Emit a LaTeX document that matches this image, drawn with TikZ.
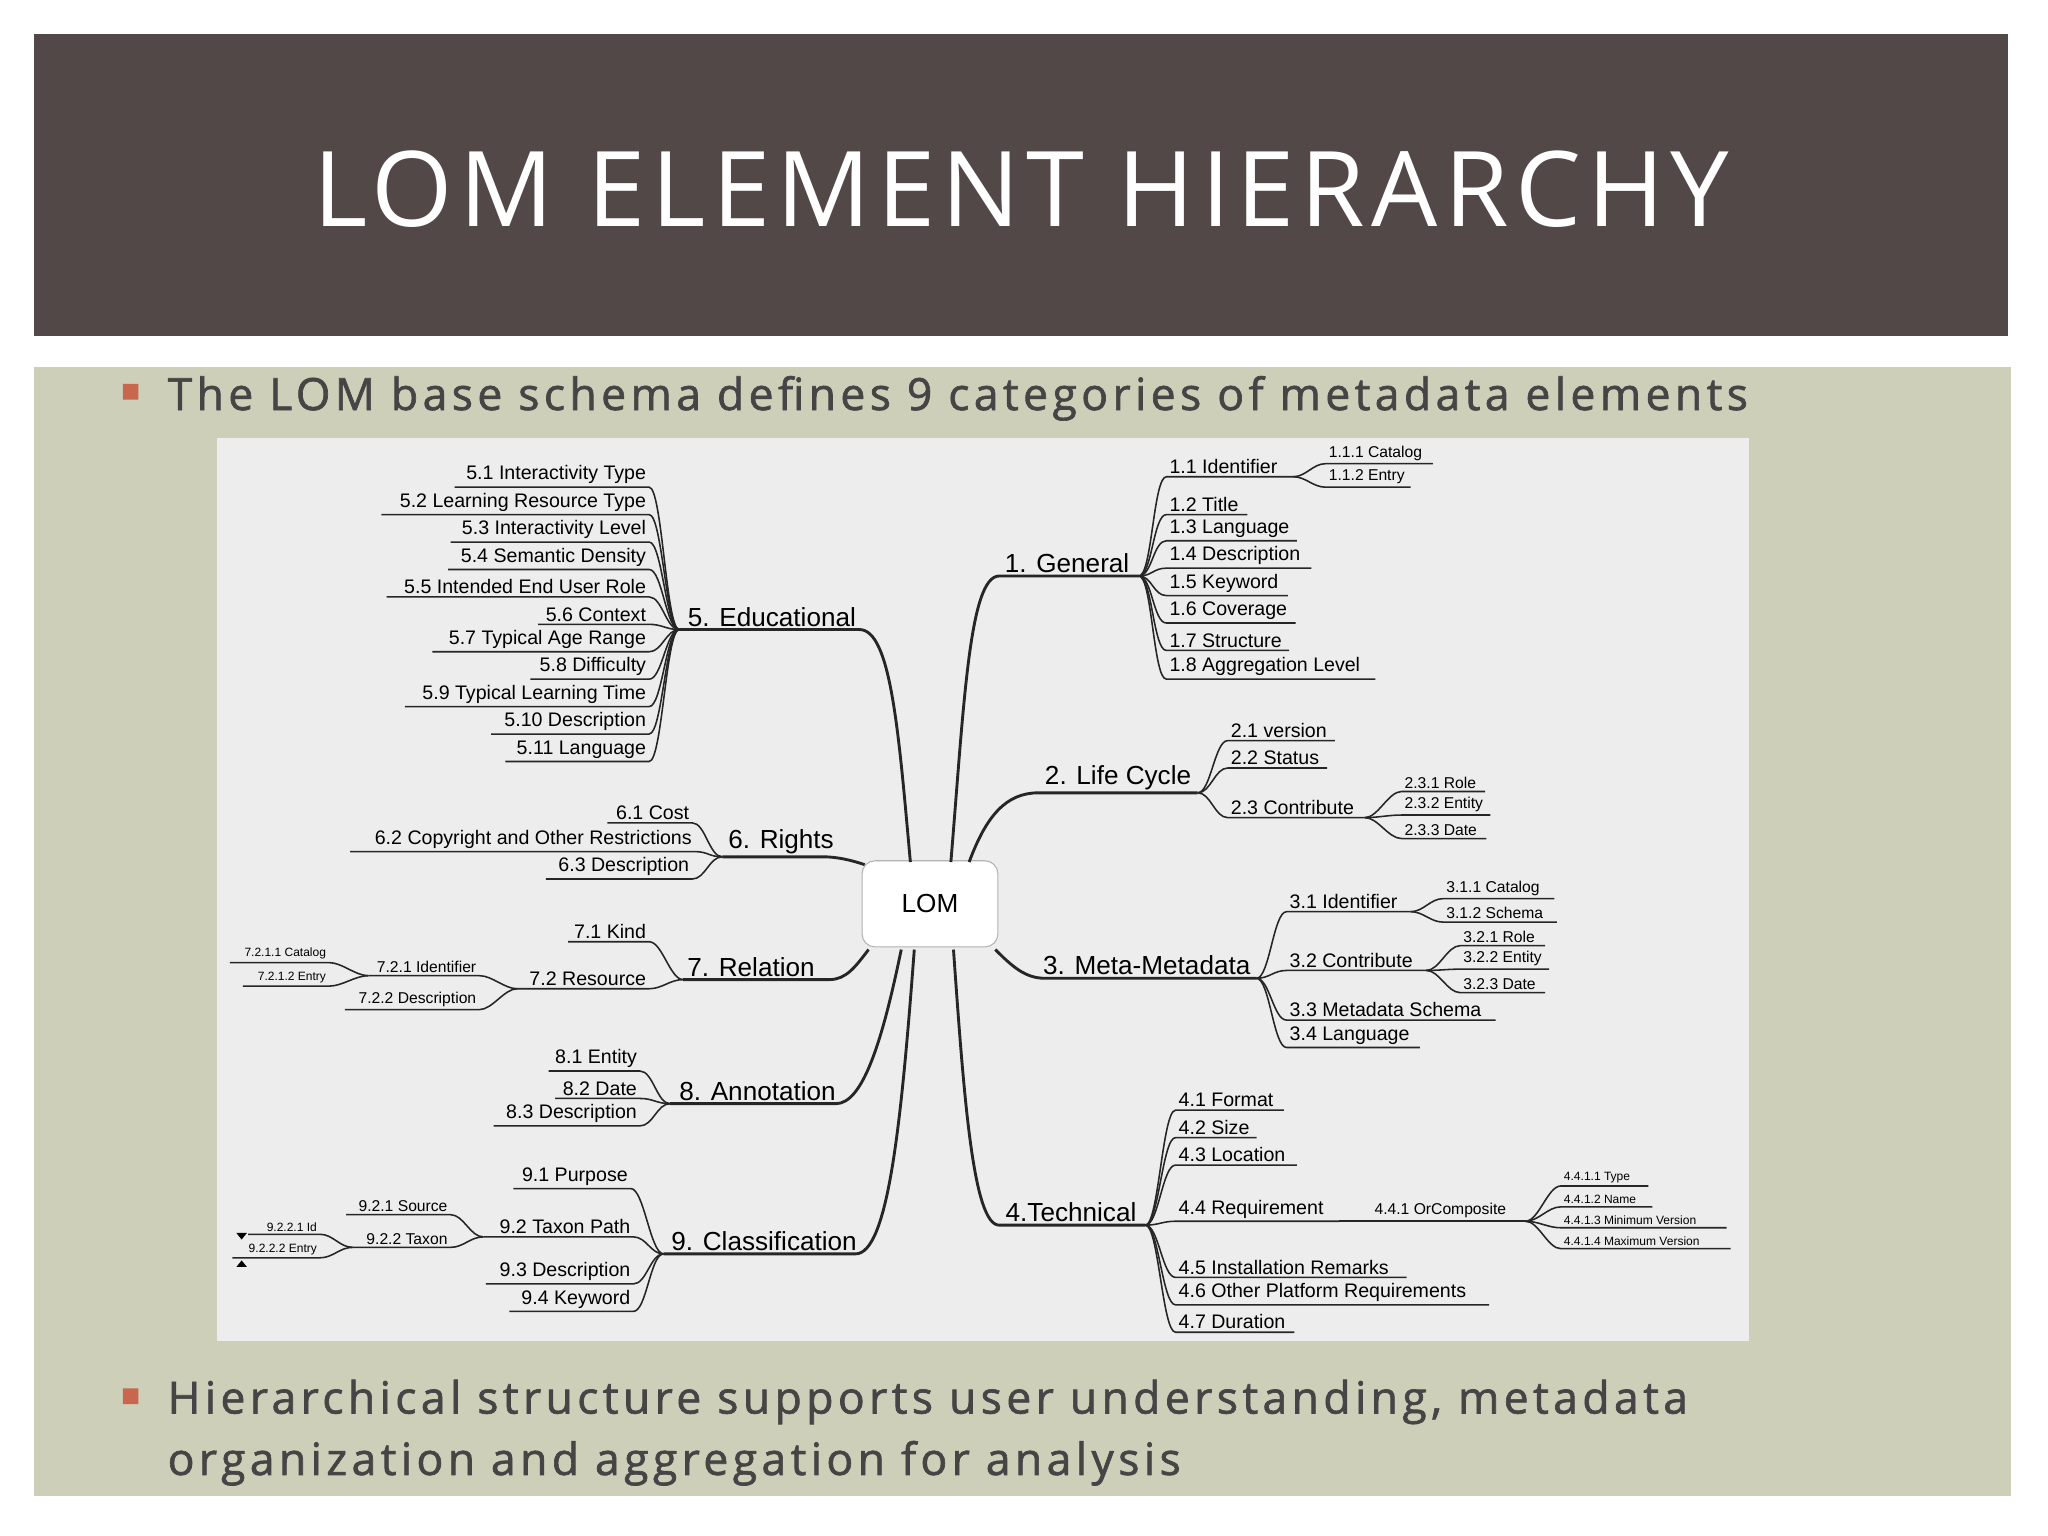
\documentclass[tikz,border=0pt]{standalone}
\usepackage{fontspec}
\setmainfont{Liberation Sans}
\newfontfamily\tfont[LetterSpace=6]{Open Sans}
\newfontfamily\bfont[LetterSpace=10,FakeBold=1.5]{Open Sans}
\definecolor{bar}{HTML}{534848}
\definecolor{body}{HTML}{CDCFB9}
\definecolor{panel}{HTML}{EDEDED}
\definecolor{txt}{HTML}{454545}
\definecolor{bul}{HTML}{C8664E}
\tikzset{br/.style={line width=0.6pt,black!85},cat/.style={line width=1.1pt,black!85},
 c1/.style={font=\fontsize{7.5}{8}\selectfont},c2/.style={font=\fontsize{6}{7}\selectfont},
 c3/.style={font=\fontsize{4.6}{5}\selectfont},ct/.style={font=\fontsize{10}{11}\selectfont,inner sep=1pt}}
\newcommand\rc[6]{\draw[br] (#1) .. controls +(10,0) and +(-10,0) .. (#2,#4) -- (#3,#4);
 \node[#6,anchor=south west,inner sep=1pt] at (#2,#4) {#5};}
\newcommand\lc[6]{\draw[br] (#1) .. controls +(-10,0) and +(10,0) .. (#3,#4) -- (#2,#4);
 \node[#6,anchor=south east,inner sep=1pt] at (#3,#4) {#5};}
\begin{document}
\begin{tikzpicture}[x=0.5pt,y=-0.5pt]
\useasboundingbox (0,0) rectangle (1568,1176);
\fill[white] (0,0) rectangle (1568,1176);
\fill[bar] (26,26) rectangle (1537,257);
\node[text=white,font=\tfont\fontsize{40}{44}\selectfont] (title) at (782,145) {LOM ELEMENT HIERARCHY};
\fill[body] (26,281) rectangle (1540,1145);
\fill[bul] (94,294) rectangle (106,306) (94,1063) rectangle (106,1075);
\node[anchor=west,text=txt,font=\bfont\fontsize{17}{20}\selectfont,inner sep=0] (b1) at (128,305) {The LOM base schema defines 9 categories of metadata elements};
\node[anchor=north west,text=txt,font=\bfont\fontsize{17}{23.5}\selectfont,inner sep=0,align=left] (b2) at (128,1056) {Hierarchical structure supports user understanding, metadata\\organization and aggregation for analysis};
\fill[panel] (166,335) rectangle (1339,1027);
% LOM
\node[draw=black!30,fill=white,rounded corners=5pt,minimum width=52pt,minimum height=33pt,font=\fontsize{10}{11}\selectfont] (lom) at (712,692) {LOM};
% ---- right categories
\draw[cat] (728,660) .. controls (738,540) and (742,441) .. (765,441) -- (872,441);
\node[ct,anchor=south] (g) at (817,441) {1. General};
\rc{872,441}{893}{990}{365}{1.1 Identifier}{c1}
\rc{990,365}{1015}{1097}{355}{1.1.1 Catalog}{c2}
\rc{990,365}{1015}{1080}{373}{1.1.2 Entry}{c2}
\rc{872,441}{893}{955}{394}{1.2 Title}{c1}
\rc{872,441}{893}{993}{414}{1.3 Language}{c1}
\rc{872,441}{893}{1004}{435}{1.4 Description}{c1}
\rc{872,441}{893}{986}{456}{1.5 Keyword}{c1}
\rc{872,441}{893}{992}{477}{1.6 Coverage}{c1}
\rc{872,441}{893}{987}{498}{1.7 Structure}{c1}
\rc{872,441}{893}{1053}{520}{1.8 Aggregation Level}{c1}
\draw[cat] (742,660) .. controls (755,625) and (770,607) .. (795,607) -- (917,607);
\node[ct,anchor=south] (lc) at (856,607) {2. Life Cycle};
\rc{917,607}{940}{1022}{567}{2.1 version}{c1}
\rc{917,607}{940}{1016}{588}{2.2 Status}{c1}
\rc{917,607}{940}{1045}{626}{2.3 Contribute}{c1}
\rc{1045,626}{1073}{1137}{606}{2.3.1 Role}{c2}
\rc{1045,626}{1073}{1141}{624}{2.3.2 Entity}{c2}
\rc{1045,626}{1073}{1138}{642}{2.3.3 Date}{c2}
\draw[cat] (762,727) .. controls (775,740) and (785,749) .. (800,749) -- (962,749);
\node[ct,anchor=south] (mm) at (878,749) {3. Meta-Metadata};
\rc{962,749}{985}{1080}{698}{3.1 Identifier}{c1}
\rc{1080,698}{1105}{1190}{688}{3.1.1 Catalog}{c2}
\rc{1080,698}{1105}{1192}{706}{3.1.2 Schema}{c2}
\rc{962,749}{985}{1092}{743}{3.2 Contribute}{c1}
\rc{1092,743}{1118}{1183}{724}{3.2.1 Role}{c2}
\rc{1092,743}{1118}{1186}{742}{3.2.2 Entity}{c2}
\rc{1092,743}{1118}{1183}{760}{3.2.3 Date}{c2}
\rc{962,749}{985}{1145}{781}{3.3 Metadata Schema}{c1}
\rc{962,749}{985}{1087}{802}{3.4 Language}{c1}
\draw[cat] (730,727) .. controls (738,840) and (745,938) .. (765,938) -- (877,938);
\node[ct,anchor=south] (te) at (820,938) {4.Technical};
\rc{877,938}{900}{983}{850}{4.1 Format}{c1}
\rc{877,938}{900}{962}{871}{4.2 Size}{c1}
\rc{877,938}{900}{993}{892}{4.3 Location}{c1}
\rc{877,938}{900}{1025}{935}{4.4 Requirement}{c1}
\rc{1025,935}{1050}{1168}{935}{4.4.1 OrComposite}{c2}
\rc{1168,935}{1195}{1262}{908}{4.4.1.1 Type}{c3}
\rc{1168,935}{1195}{1265}{924}{4.4.1.2 Name}{c3}
\rc{1168,935}{1195}{1322}{940}{4.4.1.3 Minimum Version}{c3}
\rc{1168,935}{1195}{1325}{956}{4.4.1.4 Maximum Version}{c3}
\rc{877,938}{900}{1077}{978}{4.5 Installation Remarks}{c1}
\rc{877,938}{900}{1140}{999}{4.6 Other Platform Requirements}{c1}
\rc{877,938}{900}{991}{1020}{4.7 Duration}{c1}
% ---- left categories
\draw[cat] (697,660) .. controls (688,560) and (682,482) .. (658,482) -- (520,482);
\node[ct,anchor=south] (ed) at (591,482) {5. Educational};
\lc{520,482}{348}{497}{373}{5.1 Interactivity Type}{c1}
\lc{520,482}{292}{497}{394}{5.2 Learning Resource Type}{c1}
\lc{520,482}{345}{497}{415}{5.3 Interactivity Level}{c1}
\lc{520,482}{343}{497}{436}{5.4 Semantic Density}{c1}
\lc{520,482}{296}{497}{457}{5.5 Intended End User Role}{c1}
\lc{520,482}{412}{497}{478}{5.6 Context}{c1}
\lc{520,482}{331}{497}{499}{5.7 Typical Age Range}{c1}
\lc{520,482}{406}{497}{520}{5.8 Difficulty}{c1}
\lc{520,482}{310}{497}{541}{5.9 Typical Learning Time}{c1}
\lc{520,482}{376}{497}{562}{5.10 Description}{c1}
\lc{520,482}{387}{497}{583}{5.11 Language}{c1}
\draw[cat] (662,662) .. controls (650,658) and (640,656) .. (630,656) -- (553,656);
\node[ct,anchor=south] (ri) at (598,656) {6. Rights};
\lc{553,656}{465}{530}{630}{6.1 Cost}{c1}
\lc{553,656}{268}{532}{652}{6.2 Copyright and Other Restrictions}{c1}
\lc{553,656}{418}{530}{673}{6.3 Description}{c1}
\draw[cat] (665,727) .. controls (655,740) and (648,750) .. (635,750) -- (523,750);
\node[ct,anchor=south] (re) at (575,750) {7. Relation};
\lc{523,750}{435}{497}{721}{7.1 Kind}{c1}
\lc{523,750}{396}{497}{757}{7.2 Resource}{c1}
\lc{396,757}{282}{367}{747}{7.2.1 Identifier}{c2}
\lc{396,757}{264}{367}{773}{7.2.2 Description}{c2}
\lc{282,747}{176}{252}{737}{7.2.1.1 Catalog}{c3}
\lc{282,747}{186}{252}{755}{7.2.1.2 Entry}{c3}
\draw[cat] (690,727) .. controls (675,800) and (660,845) .. (640,845) -- (513,845);
\node[ct,anchor=south] (an) at (580,845) {8. Annotation};
\lc{513,845}{420}{490}{820}{8.1 Entity}{c1}
\lc{513,845}{425}{490}{841}{8.2 Date}{c1}
\lc{513,845}{378}{490}{862}{8.3 Description}{c1}
\draw[cat] (700,727) .. controls (690,860) and (680,960) .. (655,960) -- (508,960);
\node[ct,anchor=south] (cl) at (585,960) {9. Classification};
\lc{508,960}{393}{483}{910}{9.1 Purpose}{c1}
\lc{508,960}{370}{485}{947}{9.2 Taxon Path}{c1}
\lc{508,960}{372}{485}{983}{9.3 Description}{c1}
\lc{508,960}{390}{485}{1004}{9.4 Keyword}{c1}
\lc{370,947}{265}{345}{930}{9.2.1 Source}{c2}
\lc{370,947}{270}{345}{955}{9.2.2 Taxon}{c2}
\lc{270,955}{190}{245}{945}{9.2.2.1 Id}{c3}
\lc{270,955}{178}{245}{963}{9.2.2.2 Entry}{c3}
\fill (181,944) -- (189,944) -- (185,949) -- cycle;
\fill (181,970) -- (189,970) -- (185,965) -- cycle;
\end{tikzpicture}
\end{document}
